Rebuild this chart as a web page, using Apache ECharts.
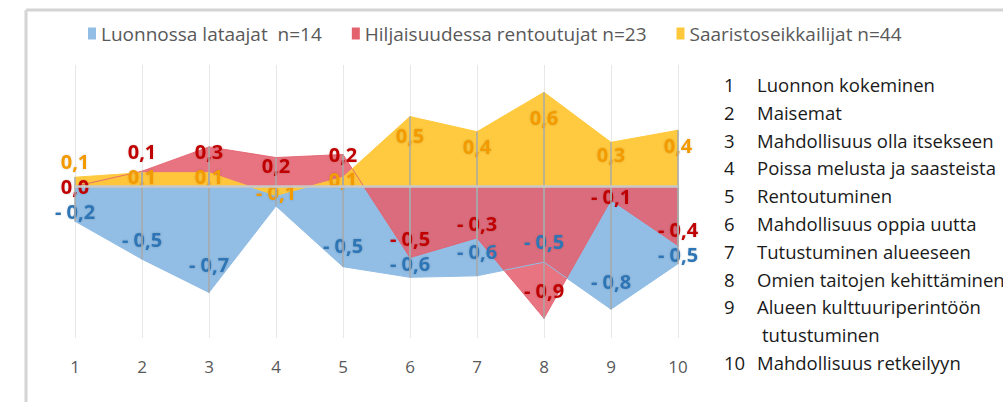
<!DOCTYPE html>
<html>
<head>
<meta charset="utf-8">
<script src="https://cdn.jsdelivr.net/npm/echarts@6/dist/echarts.min.js"></script>
<style>
  html, body { margin: 0; padding: 0; background: #fff; }
  #chart { width: 1003px; height: 402px; }
</style>
</head>
<body>
<div id="chart"></div>
<script>
// kategoriat (x-akseli) ja selitteen nimet
const categories = ['1', '2', '3', '4', '5', '6', '7', '8', '9', '10'];
const seriesNames = ['Luonnossa lataajat  n=14', 'Hiljaisuudessa rentoutujat n=23', 'Saaristoseikkailijat n=44'];

// arvot kuvasta luettuna
const lataajat = [-0.23, -0.48, -0.70, -0.13, -0.53, -0.60, -0.59, -0.50, -0.81, -0.51];
const rentoutujat = [0.0, 0.10, 0.26, 0.19, 0.21, -0.47, -0.34, -0.87, -0.09, -0.39];
const seikkailijat = [0.06, 0.09, 0.09, -0.06, 0.06, 0.46, 0.36, 0.62, 0.29, 0.37];

// oikean reunan selitelista
const itemNames = [
    'Luonnon kokeminen',
    'Maisemat',
    'Mahdollisuus olla itsekseen',
    'Poissa melusta ja saasteista',
    'Rentoutuminen',
    'Mahdollisuus oppia uutta',
    'Tutustuminen alueeseen',
    'Omien taitojen kehittäminen',
    'Alueen kulttuuriperintöön\ntutustuminen',
    'Mahdollisuus retkeilyyn'
];

const FONT = '"Open Sans", "Liberation Sans", sans-serif';
const allValues = [lataajat, rentoutujat, seikkailijat];
const hiddenLabels = [[3], [], []];   // sininen -0,1 jää oranssin alle
const LABEL_GAP = 0.165;

function fmt(v) {
    const s = Math.abs(v).toFixed(1).replace('.', ',');
    return v < 0 ? '- ' + s : s;
}

// nimilapun paikka arvoyksiköissä: kohti nollaa, päällekkäiset erilleen
function labelTargets() {
    const targets = allValues.map(arr => arr.map(v => v - Math.sign(v) * Math.min(0.185, Math.abs(v) * 0.27)));
    categories.forEach((c, i) => {
        const items = [0, 1, 2]
            .filter(s => hiddenLabels[s].indexOf(i) < 0)
            .map(s => ({ s: s, L: targets[s][i] }));
        items.sort((a, b) => b.L - a.L);
        for (let k = 1; k < items.length; k++) {
            if (items[k].L < 0 && items[k - 1].L - items[k].L < LABEL_GAP) items[k].L = items[k - 1].L - LABEL_GAP;
        }
        for (let k = items.length - 2; k >= 0; k--) {
            if (items[k].L >= 0 && items[k].L - items[k + 1].L < LABEL_GAP) items[k].L = items[k + 1].L + LABEL_GAP;
        }
        items.forEach(it => { targets[it.s][i] = it.L; });
    });
    return targets;
}

function makeSeries(name, values, areaColor, opacity, labelColor) {
    return {
        name: name,
        type: 'line',
        data: values,
        symbol: 'circle',
        symbolSize: 1,
        itemStyle: { color: areaColor },
        lineStyle: { width: 1, color: areaColor, opacity: opacity },
        areaStyle: { color: areaColor, opacity: opacity },
        label: {
            show: true,
            position: 'inside',
            formatter: (p) => fmt(p.value),
            color: labelColor,
            fontFamily: FONT,
            fontWeight: 'bold',
            fontSize: 20,
            textShadowColor: 'rgba(0,0,0,0.18)',
            textShadowBlur: 2
        }
    };
}

// pudotusviivat jokaisesta pisteestä akselille
const dropLines = [];
allValues.forEach(arr => {
    arr.forEach((v, i) => {
        dropLines.push([{ coord: [categories[i], 0] }, { coord: [categories[i], v] }]);
    });
});

const orange = makeSeries(seriesNames[2], seikkailijat, '#FFC83A', 0.97, '#F29A00');
orange.markLine = {
    silent: true,
    symbol: ['none', 'none'],
    label: { show: false },
    lineStyle: { color: '#A8A8A8', width: 1.5, type: 'solid' },
    data: dropLines.concat([{ yAxis: 0, lineStyle: { color: '#C8C8C8', width: 2.5 } }])
};

// lista graafisina teksteinä
const listGraphics = [];
let row = 0;
itemNames.forEach((txt, i) => {
    txt.split('\n').forEach((ln, j) => {
        const y = 87 + row * 27.8;
        if (j === 0) {
            listGraphics.push({
                type: 'text', left: 724, top: y - 12,
                style: { text: String(i + 1), fill: '#1a1a1a', font: '18.5px ' + FONT }
            });
        }
        listGraphics.push({
            type: 'text', left: j === 0 ? 757 : 762, top: y - 12,
            style: { text: ln, fill: '#1a1a1a', font: '18.5px ' + FONT }
        });
        row++;
    });
});

const chart = echarts.init(document.getElementById('chart'), null, { renderer: 'svg' });
const option = {
    animation: false,
    backgroundColor: '#fff',
    legend: {
        top: 19,
        left: 83,
        icon: 'rect',
        itemWidth: 8,
        itemHeight: 12,
        itemGap: 30,
        textStyle: { color: '#595959', fontSize: 19, fontFamily: FONT }
    },
    grid: { left: 75, right: 325, top: 65, bottom: 64 },
    xAxis: {
        type: 'category',
        data: categories,
        boundaryGap: false,
        axisLine: { show: false },
        axisTick: { show: false },
        axisLabel: { color: '#595959', fontSize: 17, fontFamily: FONT, margin: 20 },
        splitLine: { show: true, lineStyle: { color: '#E8E8E8', width: 1 } }
    },
    yAxis: {
        type: 'value',
        min: -1,
        max: 0.8,
        show: false
    },
    series: [
        makeSeries(seriesNames[0], lataajat, '#92BDE4', 1, '#2E75B6'),
        makeSeries(seriesNames[1], rentoutujat, '#E4616E', 0.88, '#C00000'),
        orange
    ],
    graphic: [
        { type: 'line', shape: { x1: 26, y1: 10, x2: 1003, y2: 10 }, style: { stroke: '#D4D4D4', lineWidth: 3 } },
        { type: 'line', shape: { x1: 26, y1: 10, x2: 26, y2: 402 }, style: { stroke: '#D4D4D4', lineWidth: 3 } }
    ].concat(listGraphics)
};
chart.setOption(option);

// nimilappujen siirrot pikseleinä akselin oman asteikon kautta
const targets = labelTargets();
chart.setOption({
    series: allValues.map((arr, s) => ({
        data: arr.map((v, i) => {
            const p0 = chart.convertToPixel({ gridIndex: 0 }, [i, v]);
            const p1 = chart.convertToPixel({ gridIndex: 0 }, [i, targets[s][i]]);
            return {
                value: v,
                label: { show: hiddenLabels[s].indexOf(i) < 0, offset: [0, p1[1] - p0[1]] }
            };
        })
    }))
});
</script>
</body>
</html>
